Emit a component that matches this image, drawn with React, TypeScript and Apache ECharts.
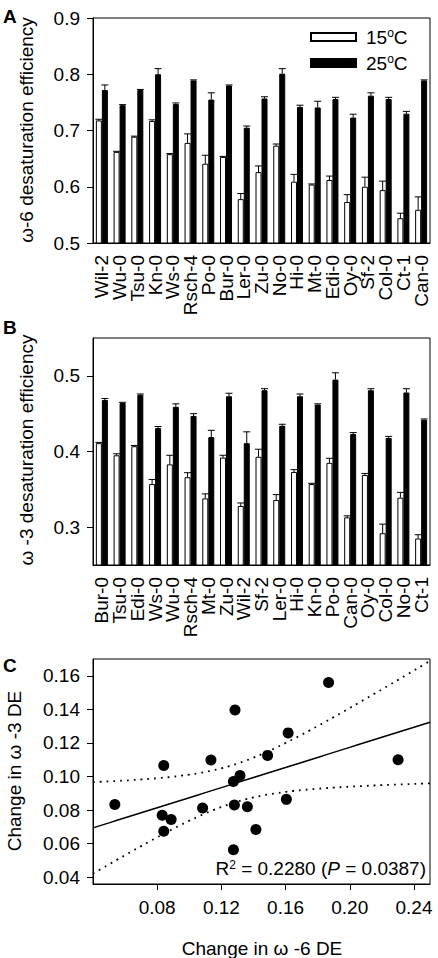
import React, { useEffect, useRef } from "react";
import * as echarts from "echarts";

const FONT = "Liberation Sans, Arial, sans-serif";

// Panel A: omega-6 desaturation efficiency
const catsA = ["Wil-2", "Wu-0", "Tsu-0", "Kn-0", "Ws-0", "Rsch-4", "Po-0", "Bur-0", "Ler-0", "Zu-0", "No-0", "Hi-0", "Mt-0", "Edi-0", "Oy-0", "Sf-2", "Col-0", "Ct-1", "Can-0"];
const a15 = [0.718, 0.662, 0.689, 0.717, 0.658, 0.678, 0.641, 0.653, 0.578, 0.626, 0.673, 0.609, 0.604, 0.612, 0.573, 0.600, 0.594, 0.544, 0.559];
const a15Err = [0.002, 0.001, 0.001, 0.002, 0.001, 0.016, 0.015, 0.001, 0.010, 0.011, 0.003, 0.013, 0.001, 0.007, 0.013, 0.017, 0.016, 0.009, 0.023];
const a25 = [0.772, 0.745, 0.772, 0.800, 0.747, 0.789, 0.755, 0.780, 0.705, 0.757, 0.801, 0.742, 0.741, 0.756, 0.723, 0.762, 0.756, 0.730, 0.789];
const a25Err = [0.009, 0.001, 0.001, 0.010, 0.002, 0.001, 0.012, 0.001, 0.003, 0.003, 0.009, 0.003, 0.011, 0.003, 0.006, 0.005, 0.003, 0.004, 0.001];

// Panel B: omega-3 desaturation efficiency
const catsB = ["Bur-0", "Tsu-0", "Edi-0", "Ws-0", "Wu-0", "Rsch-4", "Mt-0", "Zu-0", "Wil-2", "Sf-2", "Ler-0", "Hi-0", "Kn-0", "Po-0", "Can-0", "Oy-0", "Col-0", "No-0", "Ct-1"];
const b15 = [0.411, 0.395, 0.407, 0.357, 0.383, 0.366, 0.338, 0.392, 0.328, 0.393, 0.336, 0.373, 0.357, 0.385, 0.313, 0.369, 0.292, 0.339, 0.285];
const b15Err = [0.001, 0.002, 0.001, 0.006, 0.012, 0.006, 0.006, 0.003, 0.004, 0.010, 0.007, 0.003, 0.001, 0.006, 0.002, 0.002, 0.012, 0.007, 0.005];
const b25 = [0.468, 0.464, 0.475, 0.431, 0.459, 0.447, 0.419, 0.473, 0.411, 0.481, 0.434, 0.473, 0.462, 0.495, 0.423, 0.481, 0.418, 0.478, 0.442];
const b25Err = [0.002, 0.001, 0.001, 0.002, 0.004, 0.003, 0.009, 0.004, 0.015, 0.002, 0.002, 0.003, 0.001, 0.009, 0.002, 0.002, 0.002, 0.005, 0.001];

// Panel C: change in omega-6 DE vs change in omega-3 DE
const cx = [0.0536, 0.0841, 0.0831, 0.0887, 0.0841, 0.1083, 0.1135, 0.1285, 0.1275, 0.1316, 0.1281, 0.1362, 0.1275, 0.1415, 0.1488, 0.1616, 0.1605, 0.1868, 0.2301];
const cy = [0.0834, 0.1066, 0.0770, 0.0744, 0.0674, 0.0812, 0.1098, 0.1396, 0.0970, 0.1006, 0.0830, 0.0820, 0.0564, 0.0684, 0.1126, 0.1260, 0.0864, 0.1560, 0.1100];

const ticksB = [0.3, 0.4, 0.5];
const ticksCx = [0.08, 0.12, 0.16, 0.2, 0.24];
const ticksCy = [0.04, 0.06, 0.08, 0.1, 0.12, 0.14, 0.16];

function regression() {
  const n = cx.length;
  const mx = cx.reduce((s, v) => s + v, 0) / n;
  const my = cy.reduce((s, v) => s + v, 0) / n;
  let sxx = 0, sxy = 0;
  for (let i = 0; i < n; i++) {
    sxx += (cx[i] - mx) ** 2;
    sxy += (cx[i] - mx) * (cy[i] - my);
  }
  const b = sxy / sxx;
  const a = my - b * mx;
  let sse = 0;
  for (let i = 0; i < n; i++) sse += (cy[i] - (a + b * cx[i])) ** 2;
  const s = Math.sqrt(sse / (n - 2));
  const t = 2.110; // t(0.975, 17)
  const fit: number[][] = [], up: number[][] = [], lo: number[][] = [];
  for (let k = 0; k <= 42; k++) {
    const x = 0.04 + k * 0.005;
    const yh = a + b * x;
    const hw = t * s * Math.sqrt(1 / n + (x - mx) ** 2 / sxx);
    fit.push([x, yh]);
    up.push([x, yh + hw]);
    lo.push([x, yh - hw]);
  }
  return { fit, up, lo };
}

function errSeries(name: string, xi: number, yi: number, vals: number[], errs: number[], off: number) {
  return {
    type: "custom",
    name,
    xAxisIndex: xi,
    yAxisIndex: yi,
    z: 5,
    silent: true,
    data: vals.map((v, i) => [i, v, errs[i]]),
    encode: { x: 0, y: 1 },
    renderItem: (params: any, api: any) => {
      const c = api.value(0);
      const v = api.value(1);
      const e = api.value(2);
      const p0 = api.coord([c, v]);
      const p1 = api.coord([c, v + e]);
      const x = p0[0] + off;
      return {
        type: "group",
        children: [
          { type: "line", shape: { x1: x, y1: p0[1], x2: x, y2: p1[1] }, style: { stroke: "#000", lineWidth: 1 } },
          { type: "line", shape: { x1: x - 3.5, y1: p1[1], x2: x + 3.5, y2: p1[1] }, style: { stroke: "#000", lineWidth: 1 } },
        ],
      };
    },
  };
}

const labelStyle = { fontSize: 19, color: "#000", fontFamily: FONT };

export default function App() {
  const ref = useRef<HTMLDivElement>(null);
  useEffect(() => {
    if (!ref.current) return;
    const chart = echarts.init(ref.current, undefined, { renderer: "svg" });
    const { fit, up, lo } = regression();
    const gridBase = { left: 93, width: 337, show: true, borderColor: "#000", borderWidth: 1, backgroundColor: "transparent" };
    const axisLine = { show: true, lineStyle: { color: "#000", width: 1 } };
    const option: any = {
      animation: false,
      backgroundColor: "#fff",
      grid: [
        { ...gridBase, top: 18, height: 225 },
        { ...gridBase, top: 338, height: 227 },
        { ...gridBase, top: 659, height: 225 },
      ],
      legend: {
        data: ["15°C", "25°C"],
        orient: "vertical",
        left: 305,
        top: 22,
        itemWidth: 45,
        itemHeight: 8,
        itemGap: 6,
        icon: "rect",
        selectedMode: false,
        formatter: (name: string) => name.replace("°", "{sup|o}"),
        textStyle: {
          fontSize: 19,
          color: "#000",
          fontFamily: FONT,
          lineHeight: 20,
          padding: [0, 0, 0, 5],
          rich: { sup: { fontSize: 12, fontFamily: FONT, color: "#000", verticalAlign: "top", lineHeight: 12, padding: [0, 0, 8, 0] } },
        },
      },
      xAxis: [
        { gridIndex: 0, type: "category", data: catsA, axisLine, axisTick: { show: false }, axisLabel: { ...labelStyle, rotate: 90, interval: 0, margin: 12 } },
        { gridIndex: 1, type: "category", data: catsB, axisLine, axisTick: { show: false }, axisLabel: { ...labelStyle, rotate: 90, interval: 0, margin: 12 } },
        {
          gridIndex: 2, type: "value", min: 0.04, max: 0.25, splitLine: { show: false }, axisLine,
          axisTick: { show: true, length: 6, customValues: ticksCx, lineStyle: { color: "#000" } },
          axisLabel: { ...labelStyle, customValues: ticksCx, margin: 14, formatter: (v: number) => v.toFixed(2) },
        },
      ],
      yAxis: [
        {
          gridIndex: 0, type: "value", min: 0.5, max: 0.9, interval: 0.1, splitLine: { show: false }, axisLine,
          axisTick: { show: true, length: 6, lineStyle: { color: "#000" } },
          axisLabel: { ...labelStyle, margin: 13, formatter: (v: number) => v.toFixed(1) },
        },
        {
          gridIndex: 1, type: "value", min: 0.25, max: 0.55, splitLine: { show: false }, axisLine,
          axisTick: { show: true, length: 6, customValues: ticksB, lineStyle: { color: "#000" } },
          axisLabel: { ...labelStyle, margin: 13, customValues: ticksB, formatter: (v: number) => v.toFixed(1) },
        },
        {
          gridIndex: 2, type: "value", min: 0.036, max: 0.17, splitLine: { show: false }, axisLine,
          axisTick: { show: true, length: 6, customValues: ticksCy, lineStyle: { color: "#000" } },
          axisLabel: { ...labelStyle, margin: 13, customValues: ticksCy, formatter: (v: number) => v.toFixed(2) },
        },
      ],
      series: [
        { type: "bar", name: "15°C", xAxisIndex: 0, yAxisIndex: 0, data: a15, barWidth: 6, barGap: "0%", itemStyle: { color: "#fff", borderColor: "#000", borderWidth: 1 } },
        { type: "bar", name: "25°C", xAxisIndex: 0, yAxisIndex: 0, data: a25, barWidth: 6, barGap: "0%", itemStyle: { color: "#000", borderColor: "#000", borderWidth: 1 } },
        errSeries("errA15", 0, 0, a15, a15Err, -3),
        errSeries("errA25", 0, 0, a25, a25Err, 3),
        { type: "bar", name: "15°C", xAxisIndex: 1, yAxisIndex: 1, data: b15, barWidth: 6, barGap: "0%", itemStyle: { color: "#fff", borderColor: "#000", borderWidth: 1 } },
        { type: "bar", name: "25°C", xAxisIndex: 1, yAxisIndex: 1, data: b25, barWidth: 6, barGap: "0%", itemStyle: { color: "#000", borderColor: "#000", borderWidth: 1 } },
        errSeries("errB15", 1, 1, b15, b15Err, -3),
        errSeries("errB25", 1, 1, b25, b25Err, 3),
        { type: "line", name: "fit", xAxisIndex: 2, yAxisIndex: 2, data: fit, showSymbol: false, clip: true, lineStyle: { color: "#000", width: 1.5 } },
        { type: "line", name: "upper", xAxisIndex: 2, yAxisIndex: 2, data: up, showSymbol: false, clip: true, smooth: true, lineStyle: { color: "#000", width: 1.8, type: [1.8, 5] } },
        { type: "line", name: "lower", xAxisIndex: 2, yAxisIndex: 2, data: lo, showSymbol: false, clip: true, smooth: true, lineStyle: { color: "#000", width: 1.8, type: [1.8, 5] } },
        { type: "scatter", name: "points", xAxisIndex: 2, yAxisIndex: 2, data: cx.map((x, i) => [x, cy[i]]), symbolSize: 11, itemStyle: { color: "#000", opacity: 1 }, z: 4 },
      ],
      graphic: [
        { type: "text", x: 3, y: 7, style: { text: "A", fontSize: 19, fontWeight: "bold", fontFamily: FONT, fill: "#000" } },
        { type: "text", x: 3, y: 318, style: { text: "B", fontSize: 19, fontWeight: "bold", fontFamily: FONT, fill: "#000" } },
        { type: "text", x: 3, y: 656, style: { text: "C", fontSize: 19, fontWeight: "bold", fontFamily: FONT, fill: "#000" } },
        { type: "text", x: 26, y: 130, rotation: Math.PI / 2, style: { text: "ω-6 desaturation efficiency", align: "center", verticalAlign: "middle", fontSize: 19, fontFamily: FONT, fill: "#000" } },
        { type: "text", x: 26, y: 450, rotation: Math.PI / 2, style: { text: "ω -3 desaturation efficiency", align: "center", verticalAlign: "middle", fontSize: 19, fontFamily: FONT, fill: "#000" } },
        { type: "text", x: 14, y: 771, rotation: Math.PI / 2, style: { text: "Change in ω -3 DE", align: "center", verticalAlign: "middle", fontSize: 19, fontFamily: FONT, fill: "#000" } },
        { type: "text", x: 262, y: 948, style: { text: "Change in ω -6 DE", align: "center", verticalAlign: "middle", fontSize: 19, fontFamily: FONT, fill: "#000" } },
        {
          type: "text", x: 426, y: 868, z: 10,
          style: {
            text: "R{sup|2} = 0.2280 ({it|P} = 0.0387)", align: "right", verticalAlign: "middle",
            fontSize: 19, fontFamily: FONT, fill: "#000",
            rich: {
              sup: { fontSize: 12, fontFamily: FONT, fill: "#000", verticalAlign: "top", lineHeight: 12, padding: [0, 0, 8, 0] },
              it: { fontSize: 19, fontFamily: FONT, fill: "#000", fontStyle: "italic" },
            },
          },
        },
      ],
    };
    chart.setOption(option);
    return () => chart.dispose();
  }, []);
  return <div ref={ref} style={{ position: "absolute", left: 0, top: 0, width: 438, height: 958 }} />;
}
